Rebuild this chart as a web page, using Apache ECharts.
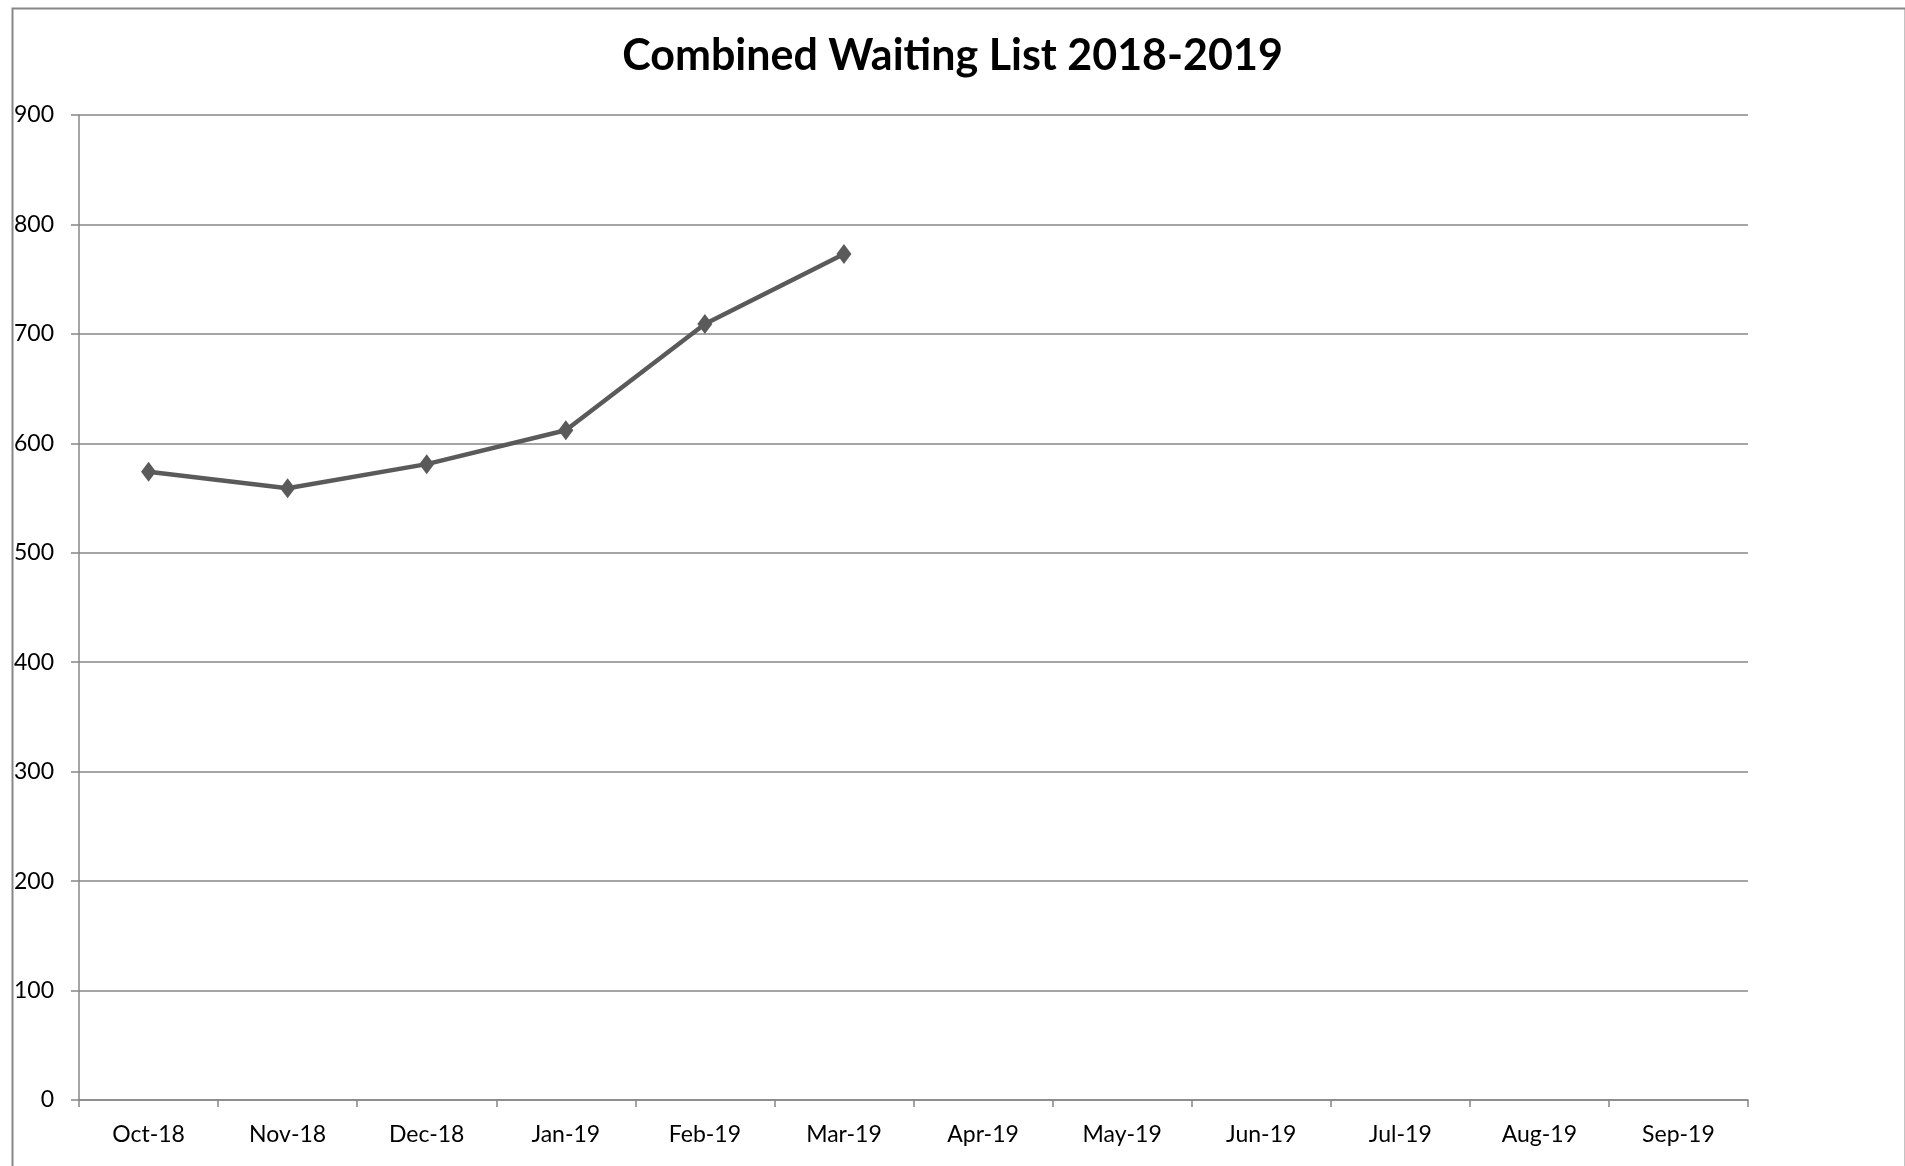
<!DOCTYPE html>
<html>
<head>
<meta charset="utf-8">
<script src="https://cdn.jsdelivr.net/npm/echarts@6/dist/echarts.min.js"></script>
<style>
  html, body { margin: 0; padding: 0; background: #ffffff; }
  #chart { width: 1905px; height: 1166px; }
</style>
</head>
<body>
<div id="chart"></div>
<script>
// months on the x axis
const months = ['Oct-18', 'Nov-18', 'Dec-18', 'Jan-19', 'Feb-19', 'Mar-19',
  'Apr-19', 'May-19', 'Jun-19', 'Jul-19', 'Aug-19', 'Sep-19']
// combined waiting list, only first six months filled
const waiting = [574, 559, 581, 612, 709, 773]

const fontName = 'Lato, "Open Sans", sans-serif'
const gray = '#878787'

var myChart = echarts.init(document.getElementById('chart'))
var option = {
  animation: false,
  title: {
    text: 'Combined Waiting List 2018-2019',
    left: 'center',
    top: 30,
    textStyle: { fontFamily: fontName, fontSize: 43, fontWeight: 'bold', color: '#000' }
  },
  graphic: [
    {
      // outer frame of the chart
      type: 'rect',
      left: 10,
      top: 6,
      shape: { width: 1893, height: 1250 },
      style: { fill: 'none', stroke: gray, lineWidth: 2 }
    }
  ],
  grid: { left: 79, right: 157, top: 115, bottom: 66 },
  xAxis: {
    type: 'category',
    data: months,
    boundaryGap: true,
    axisLine: { lineStyle: { color: gray, width: 1.5 } },
    axisTick: { show: true, length: 7, lineStyle: { color: gray, width: 1.5 } },
    axisLabel: { fontFamily: fontName, fontSize: 23, color: '#000', margin: 23, interval: 0 },
    splitLine: { show: false }
  },
  yAxis: {
    type: 'value',
    min: 0,
    max: 900,
    interval: 100,
    axisLine: { show: true, lineStyle: { color: gray, width: 1.5 } },
    axisTick: { show: true, inside: false, length: 8, lineStyle: { color: gray, width: 1.5 } },
    axisLabel: { fontFamily: fontName, fontSize: 23, color: '#000', margin: 25 },
    splitLine: { show: true, lineStyle: { color: gray, width: 1.5 } }
  },
  series: [
    {
      name: 'Waiting List',
      type: 'line',
      data: waiting,
      symbol: 'diamond',
      symbolSize: [15, 20],
      lineStyle: { color: '#5a5a5a', width: 4.5 },
      itemStyle: { color: '#5a5a5a' }
    }
  ]
}
option && myChart.setOption(option)
</script>
</body>
</html>
